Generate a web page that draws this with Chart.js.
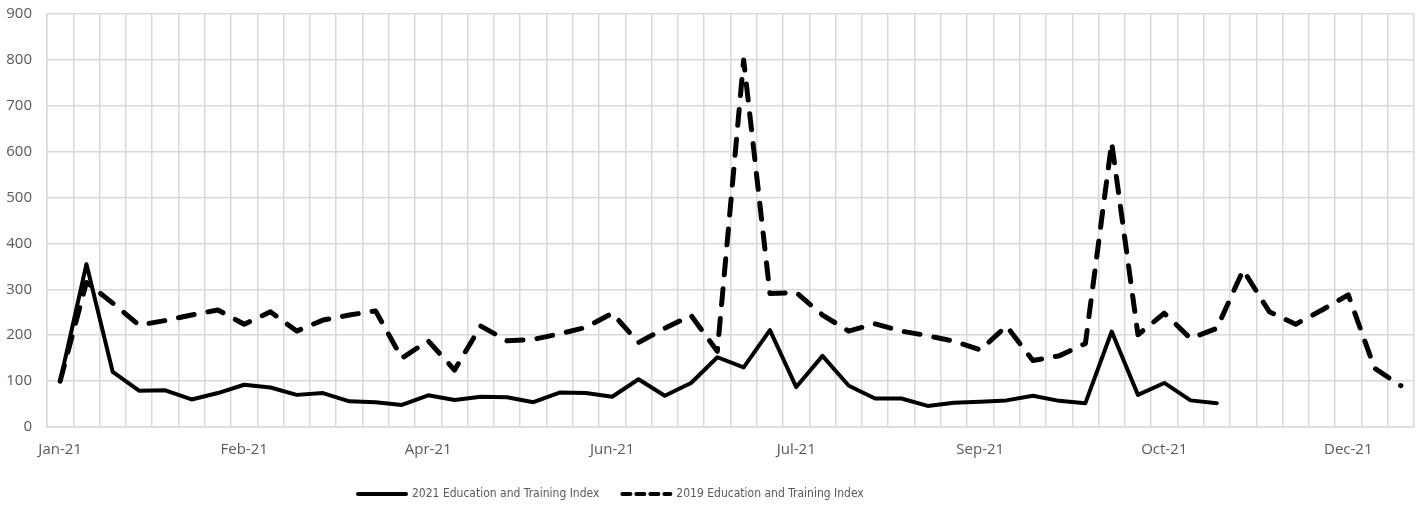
<!DOCTYPE html>
<html>
<head>
<meta charset="utf-8">
<script src="https://cdn.jsdelivr.net/npm/chart.js@4.4.1/dist/chart.umd.min.js"></script>
<style>
  html, body { margin: 0; padding: 0; background: #ffffff; }
  #wrap { width: 1421px; height: 508px; position: relative; }
</style>
</head>
<body>
<div id="wrap"><canvas id="c" width="1421" height="508"></canvas></div>
<script>
// Weekly categories (2021), labelled by month
const weekLabels = [
  "Jan-21","Jan-21","Jan-21","Jan-21",
  "Feb-21","Feb-21","Feb-21","Feb-21",
  "Mar-21","Mar-21","Mar-21","Mar-21",
  "Apr-21","Apr-21","Apr-21","Apr-21","Apr-21",
  "May-21","May-21","May-21","May-21",
  "Jun-21","Jun-21","Jun-21","Jun-21",
  "Jul-21","Jul-21","Jul-21","Jul-21","Jul-21",
  "Aug-21","Aug-21","Aug-21","Aug-21",
  "Sep-21","Sep-21","Sep-21","Sep-21","Sep-21",
  "Oct-21","Oct-21","Oct-21","Oct-21",
  "Nov-21","Nov-21","Nov-21","Nov-21",
  "Dec-21","Dec-21","Dec-21","Dec-21","Dec-21"
];
const labelEvery = 7;

const series2021Name = "2021 Education and Training Index";
const series2021 = [100,355,120,79,80,60,74,92,86,70,74,56,54,48,69,59,66,65,54,75,
                    74,66,104,68,96,152,130,211,87,155,90,62,62,46,53,55,58,68,57,52,
                    208,70,96,58,52];

const series2019Name = "2019 Education and Training Index";
const series2019 = [100,315,270,222,232,244,255,224,251,209,233,244,253,150,188,124,220,188,191,203,
                    217,248,184,215,243,165,800,291,293,244,209,225,209,199,187,168,220,145,155,182,
                    620,201,248,193,215,342,251,224,255,288,128,90];

const yTicks = { min: 0, max: 900, step: 100 };

const tickFont = { family: "'Open Sans', 'DejaVu Sans', sans-serif", size: 15 };
const legendFont = { family: "'DejaVu Sans Condensed', 'Liberation Sans Narrow', sans-serif", size: 12 };
const gridColor = '#d9d9d9';
const textColor = '#595959';

const legendPlacer = {
  id: 'legendPlacer',
  afterLayout(chart) {
    const lg = chart.legend;
    const pad = lg.options.labels.padding;
    lg.left = 358 - pad;
    lg.top = 494 - legendFont.size / 2 - pad;
  }
};

new Chart(document.getElementById('c'), {
  type: 'line',
  data: {
    labels: weekLabels,
    datasets: [
      {
        label: series2021Name,
        data: series2021,
        borderColor: '#000000',
        backgroundColor: '#000000',
        borderWidth: 4,
        pointRadius: 0,
        tension: 0,
        borderJoinStyle: 'round',
        borderCapStyle: 'round',
        fill: false
      },
      {
        label: series2019Name,
        data: series2019,
        borderColor: '#000000',
        backgroundColor: '#000000',
        borderWidth: 5,
        borderDash: [16, 14],
        borderCapStyle: 'round',
        borderJoinStyle: 'round',
        pointRadius: 0,
        tension: 0,
        fill: false
      }
    ]
  },
  options: {
    responsive: false,
    animation: false,
    devicePixelRatio: 1,
    layout: { padding: { left: 0, right: 7, top: 14, bottom: 0 } },
    plugins: {
      tooltip: { enabled: false },
      legend: {
        display: true,
        position: 'bottom',
        align: 'start',
        maxHeight: 45,
        labels: {
          color: textColor,
          font: legendFont,
          usePointStyle: true,
          pointStyle: 'line',
          pointStyleWidth: 48,
          padding: 23,
          generateLabels(chart) {
            const items = Chart.defaults.plugins.legend.labels.generateLabels(chart);
            items.forEach((it, i) => {
              it.lineWidth = 4;
              it.lineCap = 'round';
              it.pointStyle = 'line';
              it.lineDash = i === 1 ? [8, 6] : [];
            });
            return items;
          }
        }
      }
    },
    scales: {
      x: {
        type: 'category',
        offset: true,
        grid: { display: true, color: gridColor, lineWidth: 1.5, offset: true, drawTicks: false },
        border: { display: true, color: gridColor, width: 1.5 },
        ticks: {
          autoSkip: false,
          maxRotation: 0,
          minRotation: 0,
          padding: 14,
          color: textColor,
          font: tickFont,
          callback(value, index) {
            return index % labelEvery === 0 ? this.getLabelForValue(value) : '';
          }
        },
        afterFit(scale) { scale.height = 36; scale.paddingLeft = 0; scale.paddingRight = 0; }
      },
      y: {
        min: yTicks.min,
        max: yTicks.max,
        grid: { display: true, color: gridColor, lineWidth: 1.5, drawTicks: false },
        border: { display: true, color: gridColor, width: 1.5 },
        ticks: {
          stepSize: yTicks.step,
          padding: 15,
          color: textColor,
          font: tickFont
        },
        afterFit(scale) { scale.width = 47; scale.paddingTop = 0; scale.paddingBottom = 0; }
      }
    }
  },
  plugins: [legendPlacer]
});
</script>
</body>
</html>
